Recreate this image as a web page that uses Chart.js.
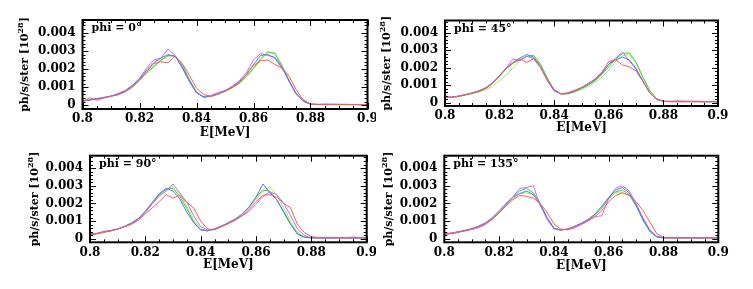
<!DOCTYPE html>
<html>
<head>
<meta charset="utf-8">
<script src="https://cdn.jsdelivr.net/npm/chart.js@4.4.1/dist/chart.umd.min.js"></script>
<style>
  html, body { margin: 0; padding: 0; background: #fff; }
  #wrap { position: relative; width: 753px; height: 289px; overflow: hidden; }
  .panel { position: absolute; }
  canvas { display: block; }
</style>
</head>
<body>
<div id="wrap">
  <div class="panel" style="left:0;top:0"><canvas id="p0" width="376" height="140"></canvas></div>
  <div class="panel" style="left:376px;top:0"><canvas id="p1" width="377" height="140"></canvas></div>
  <div class="panel" style="left:0;top:140px"><canvas id="p2" width="376" height="149"></canvas></div>
  <div class="panel" style="left:376px;top:140px"><canvas id="p3" width="377" height="149"></canvas></div>
</div>
<script>
// energies [MeV]
const energies = [0.8, 0.8025, 0.805, 0.8075, 0.81, 0.8125, 0.815, 0.8175, 0.82, 0.8225,
  0.825, 0.8275, 0.83, 0.8325, 0.835, 0.8375, 0.84, 0.8425, 0.845, 0.8475,
  0.85, 0.8525, 0.855, 0.8575, 0.86, 0.8625, 0.865, 0.8675, 0.87, 0.8725,
  0.875, 0.8775, 0.88, 0.8825, 0.885, 0.8875, 0.89, 0.8925, 0.895, 0.8975, 0.9];

// series values in units of 1e-3 ph/s/ster [10^28]
// phi = 0
const red0 = [0.2,0.42,0.28,0.4,0.5,0.58,0.75,1.0,1.38,1.85,2.3,2.4,2.35,2.7,2.3,1.65,0.95,0.6,0.48,0.62,0.78,0.98,1.25,1.7,2.2,2.45,2.5,2.25,2.05,1.6,0.85,0.3,0.08,0.05,0.05,0.06,0.05,0.05,0.04,0.05,0.05];
const blue0 = [0.22,0.3,0.38,0.42,0.52,0.62,0.8,1.1,1.45,1.95,2.35,2.6,2.8,2.7,2.1,1.35,0.7,0.45,0.5,0.65,0.8,1.0,1.3,1.7,2.25,2.75,2.8,2.6,2.05,1.35,0.65,0.25,0.06,0.05,0.04,0.05,0.06,0.04,0.05,0.04,0.05];
const violet0 = [0.25,0.28,0.36,0.45,0.5,0.65,0.82,1.1,1.5,2.05,2.5,2.6,3.1,2.75,2.05,1.3,0.68,0.48,0.55,0.7,0.82,1.05,1.35,1.8,2.5,2.85,2.75,2.65,2.1,1.3,0.6,0.22,0.08,0.06,0.08,0.06,0.05,0.06,0.05,0.04,0.05];
const green0 = [0.25,0.3,0.35,0.42,0.5,0.6,0.78,1.02,1.4,1.8,2.15,2.5,2.75,2.7,2.2,1.4,0.72,0.45,0.5,0.62,0.78,0.98,1.22,1.6,2.05,2.55,2.95,2.85,2.15,1.35,0.62,0.22,0.05,0.04,0.04,0.04,0.03,0.04,0.04,0.03,0.04];
const lime0 = [0.28,0.3,0.36,0.44,0.52,0.6,0.76,1.0,1.35,1.75,2.1,2.45,2.7,2.75,2.25,1.45,0.75,0.46,0.5,0.6,0.76,0.95,1.2,1.55,2.0,2.5,2.9,2.9,2.25,1.4,0.65,0.25,0.06,0.05,0.04,0.05,0.04,0.05,0.04,0.05,0.04];
// phi = 45
const red45 = [0.3,0.3,0.35,0.45,0.55,0.65,0.8,1.1,1.55,2.0,2.3,2.5,2.3,2.5,2.0,1.3,0.75,0.5,0.55,0.7,0.85,1.1,1.35,1.75,2.35,2.45,2.15,2.05,1.8,1.2,0.55,0.2,0.08,0.06,0.05,0.06,0.05,0.05,0.05,0.04,0.05];
const blue45 = [0.28,0.3,0.36,0.45,0.55,0.68,0.85,1.15,1.55,1.95,2.3,2.55,2.75,2.6,2.05,1.25,0.68,0.5,0.52,0.65,0.85,1.05,1.3,1.7,2.2,2.45,2.6,2.45,1.95,1.25,0.55,0.18,0.06,0.05,0.05,0.05,0.06,0.05,0.04,0.05,0.04];
const violet45 = [0.3,0.32,0.38,0.46,0.55,0.66,0.85,1.12,1.5,2.0,2.5,2.4,2.65,2.5,2.0,1.25,0.66,0.5,0.55,0.68,0.86,1.08,1.35,1.65,2.2,2.55,2.9,2.4,1.9,1.2,0.55,0.18,0.07,0.06,0.1,0.08,0.07,0.08,0.05,0.06,0.05];
const green45 = [0.3,0.31,0.36,0.44,0.52,0.64,0.82,1.1,1.5,1.95,2.25,2.45,2.65,2.7,2.2,1.4,0.7,0.48,0.5,0.62,0.8,1.0,1.25,1.6,2.05,2.5,2.8,2.85,2.3,1.45,0.68,0.22,0.06,0.05,0.05,0.05,0.04,0.05,0.05,0.04,0.05];
const lime45 = [0.28,0.3,0.34,0.42,0.5,0.6,0.72,0.95,1.25,1.6,2.0,2.4,2.65,2.6,2.15,1.4,0.7,0.48,0.5,0.6,0.75,0.92,1.15,1.45,1.85,2.35,2.7,2.75,2.25,1.45,0.65,0.22,0.06,0.05,0.05,0.04,0.05,0.04,0.04,0.05,0.04];
// phi = 90
const red90 = [0.25,0.3,0.38,0.45,0.55,0.68,0.82,1.05,1.4,1.75,2.1,2.5,2.3,2.45,2.05,1.75,1.0,0.55,0.5,0.68,0.85,1.05,1.3,1.65,2.1,2.45,2.5,2.35,2.0,1.75,0.8,0.35,0.12,0.07,0.06,0.06,0.05,0.05,0.1,0.06,0.05];
const blue90 = [0.22,0.28,0.4,0.45,0.55,0.7,0.9,1.15,1.55,2.05,2.55,2.85,2.7,2.25,1.5,0.9,0.5,0.45,0.55,0.7,0.9,1.1,1.4,1.8,2.35,3.1,2.6,2.2,1.5,0.8,0.25,0.08,0.05,0.05,0.04,0.05,0.06,0.05,0.04,0.05,0.05];
const violet90 = [0.25,0.3,0.42,0.48,0.55,0.68,0.85,1.1,1.5,1.95,2.4,2.7,3.1,2.6,2.05,1.3,0.68,0.5,0.55,0.72,0.88,1.08,1.3,1.55,1.95,2.4,2.65,2.5,2.0,1.3,0.55,0.18,0.06,0.05,0.05,0.06,0.05,0.05,0.04,0.05,0.05];
const green90 = [0.25,0.28,0.36,0.44,0.55,0.7,0.88,1.15,1.55,2.05,2.5,2.8,2.85,2.4,1.7,0.95,0.5,0.45,0.55,0.72,0.92,1.12,1.4,1.8,2.35,2.75,2.7,2.2,1.55,0.85,0.3,0.1,0.05,0.05,0.05,0.04,0.05,0.05,0.04,0.05,0.05];
const lime90 = [0.28,0.3,0.35,0.45,0.55,0.68,0.85,1.1,1.5,2.0,2.45,2.8,2.95,2.5,1.85,1.1,0.55,0.45,0.55,0.7,0.9,1.1,1.38,1.75,2.25,2.65,2.95,2.45,1.75,1.0,0.35,0.1,0.05,0.05,0.05,0.05,0.04,0.05,0.05,0.04,0.05];
// phi = 135
const red135 = [0.28,0.32,0.38,0.45,0.55,0.68,0.85,1.1,1.45,1.85,2.2,2.45,2.4,2.3,2.0,1.5,0.85,0.55,0.5,0.62,0.8,1.0,1.25,1.6,2.1,2.45,2.6,2.45,2.1,1.6,0.95,0.3,0.08,0.06,0.05,0.05,0.05,0.05,0.04,0.05,0.05];
const blue135 = [0.25,0.32,0.4,0.48,0.58,0.72,0.9,1.2,1.6,2.0,2.35,2.55,2.7,2.5,1.95,1.2,0.6,0.48,0.55,0.7,0.88,1.1,1.4,1.85,2.35,2.75,2.9,2.6,1.9,1.1,0.45,0.12,0.05,0.05,0.05,0.05,0.05,0.04,0.05,0.05,0.05];
const violet135 = [0.25,0.28,0.35,0.45,0.52,0.62,0.8,1.1,1.45,1.9,2.35,2.85,2.9,3.0,1.9,1.1,0.55,0.5,0.55,0.68,0.85,1.05,1.25,1.3,2.3,2.85,3.0,2.7,2.0,1.2,0.5,0.15,0.06,0.05,0.05,0.06,0.05,0.05,0.06,0.05,0.05];
const green135 = [0.28,0.3,0.38,0.45,0.55,0.68,0.85,1.12,1.5,1.95,2.35,2.7,2.85,2.6,2.0,1.2,0.6,0.5,0.55,0.68,0.86,1.08,1.35,1.75,2.25,2.65,2.75,2.5,1.85,1.05,0.4,0.1,0.05,0.05,0.05,0.04,0.05,0.05,0.05,0.04,0.05];
const lime135 = [0.3,0.32,0.38,0.46,0.56,0.7,0.9,1.15,1.5,1.9,2.25,2.55,2.6,2.5,1.95,1.2,0.58,0.5,0.55,0.7,0.88,1.1,1.35,1.75,2.3,2.6,2.6,2.45,1.95,1.15,0.45,0.12,0.05,0.05,0.05,0.05,0.05,0.05,0.05,0.05,0.05];

const panelLabels = ['phi = 0°', 'phi = 45°', 'phi = 90°', 'phi = 135°'];
const xTickValues = [0.8, 0.82, 0.84, 0.86, 0.88, 0.9];
const xTickLabels = ['0.8', '0.82', '0.84', '0.86', '0.88', '0.9'];
const yTickValues = [0, 0.001, 0.002, 0.003, 0.004];
const yTickLabels = ['0', '0.001', '0.002', '0.003', '0.004'];
const UNIT = 0.001;

const colors = ['#ff5a5a', '#5f74ff', '#c46cff', '#3fcf3f', '#a6ee55'];
const FONT = '"DejaVu Serif", "Liberation Serif", serif';

// plot boxes in canvas pixels
const panels = [
    { id: 'p0', series: [red0, blue0, violet0, green0, lime0],
      box: { left: 82.5, right: 367.5, top: 20, bottom: 109 }, yTitleX: 25, xTitleY: 133 },
    { id: 'p1', series: [red45, blue45, violet45, green45, lime45],
      box: { left: 69, right: 342, top: 20.5, bottom: 106 }, yTitleX: 11, xTitleY: 128 },
    { id: 'p2', series: [red90, blue90, violet90, green90, lime90],
      box: { left: 90, right: 366.7, top: 15.7, bottom: 102.3 }, yTitleX: 35, xTitleY: 124.5 },
    { id: 'p3', series: [red135, blue135, violet135, green135, lime135],
      box: { left: 68.3, right: 342.3, top: 15.7, bottom: 102.3 }, yTitleX: 13, xTitleY: 126 }
];

const framePlugin = {
    id: 'frame',
    afterDatasetsDraw(chart, args, opts) {
        const { ctx, chartArea: a, scales: { x, y } } = chart;
        ctx.save();
        ctx.strokeStyle = '#000';
        ctx.lineWidth = 1;
        ctx.beginPath();
        // x ticks, major every 0.02, minor every 0.005
        for (let i = 0; i <= 20; i++) {
            const px = Math.round(x.getPixelForValue(0.8 + i * 0.005)) + 0.5;
            const len = i % 4 === 0 ? 6 : 3;
            ctx.moveTo(px, a.bottom); ctx.lineTo(px, a.bottom - len);
            ctx.moveTo(px, a.top); ctx.lineTo(px, a.top + len);
        }
        // y ticks, major every 0.001, minor every 0.0002
        for (let i = 0; i <= 23; i++) {
            const py = Math.round(y.getPixelForValue(i * 0.0002)) + 0.5;
            const len = i % 5 === 0 ? 6 : 3;
            ctx.moveTo(a.left, py); ctx.lineTo(a.left + len, py);
            ctx.moveTo(a.right, py); ctx.lineTo(a.right - len, py);
        }
        ctx.stroke();
        ctx.lineWidth = 2;
        ctx.strokeRect(a.left, a.top, a.right - a.left, a.bottom - a.top);

        ctx.fillStyle = '#000';
        // panel label
        ctx.font = 'bold 11px ' + FONT;
        ctx.textAlign = 'left';
        ctx.textBaseline = 'alphabetic';
        ctx.fillText(opts.label, a.left + 9, a.top + 11);

        // x title
        ctx.font = 'bold 12px ' + FONT;
        ctx.textAlign = 'center';
        ctx.textBaseline = 'middle';
        ctx.fillText('E[MeV]', (a.left + a.right) / 2, opts.xTitleY);

        // y title with superscript
        const main = 'ph/s/ster [10', sup = '28', tail = ']';
        ctx.translate(opts.yTitleX, (a.top + a.bottom) / 2);
        ctx.rotate(-Math.PI / 2);
        ctx.textBaseline = 'middle';
        ctx.font = 'bold 11px ' + FONT;
        const w1 = ctx.measureText(main).width;
        const w3 = ctx.measureText(tail).width;
        ctx.font = 'bold 8px ' + FONT;
        const w2 = ctx.measureText(sup).width;
        let sx = -(w1 + w2 + w3) / 2;
        ctx.textAlign = 'left';
        ctx.font = 'bold 11px ' + FONT;
        ctx.fillText(main, sx, 0);
        ctx.font = 'bold 8px ' + FONT;
        ctx.fillText(sup, sx + w1, -4);
        ctx.font = 'bold 11px ' + FONT;
        ctx.fillText(tail, sx + w1 + w2, 0);
        ctx.restore();
    }
};

panels.forEach((p, idx) => {
    const canvas = document.getElementById(p.id);
    const W = canvas.width, H = canvas.height;
    new Chart(canvas.getContext('2d'), {
        type: 'line',
        data: {
            datasets: p.series.map((s, k) => ({
                data: s.map((v, i) => ({ x: energies[i], y: v * UNIT })),
                borderColor: colors[k],
                borderWidth: 1,
                pointRadius: 0,
                tension: 0,
                fill: false
            }))
        },
        options: {
            responsive: false,
            animation: false,
            events: [],
            layout: { padding: { left: 0, top: p.box.top, right: W - p.box.right, bottom: 0 } },
            plugins: {
                legend: { display: false },
                tooltip: { enabled: false },
                frame: { label: panelLabels[idx], xTitleY: p.xTitleY, yTitleX: p.yTitleX }
            },
            scales: {
                x: {
                    type: 'linear',
                    min: 0.8, max: 0.9,
                    grid: { display: false, drawTicks: false },
                    border: { display: false },
                    afterBuildTicks: s => { s.ticks = xTickValues.map(v => ({ value: v })); },
                    ticks: {
                        color: '#000',
                        padding: 3,
                        maxRotation: 0,
                        autoSkip: false,
                        font: { family: FONT, weight: 'bold', size: 12 },
                        callback: (v, i) => xTickLabels[i]
                    },
                    afterFit: s => { s.height = H - p.box.bottom; s.paddingLeft = 0; s.paddingRight = 0; }
                },
                y: {
                    type: 'linear',
                    min: -0.0002, max: 0.0047,
                    grid: { display: false, drawTicks: false },
                    border: { display: false },
                    afterBuildTicks: s => { s.ticks = yTickValues.map(v => ({ value: v })); },
                    ticks: {
                        color: '#000',
                        padding: 7,
                        autoSkip: false,
                        font: { family: FONT, weight: 'bold', size: 12 },
                        callback: (v, i) => yTickLabels[i]
                    },
                    afterFit: s => { s.width = p.box.left; s.paddingTop = 0; s.paddingBottom = 0; }
                }
            }
        },
        plugins: [framePlugin]
    });
});
</script>
</body>
</html>
